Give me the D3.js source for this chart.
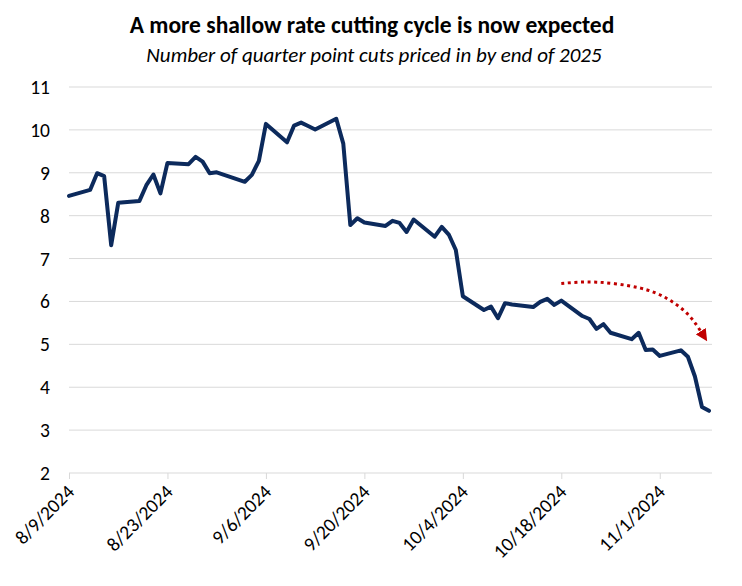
<!DOCTYPE html>
<html>
<head>
<meta charset="utf-8">
<script src="https://cdn.jsdelivr.net/npm/d3@7"></script>
<style>
  html, body { margin: 0; padding: 0; background: #ffffff; }
  svg { display: block; }
  text { font-family: Carlito, Calibri, Lato, "Open Sans", sans-serif; fill: #000; }
</style>
</head>
<body>
<svg id="chart" width="742" height="586"></svg>
<script>
// ---- data ----
const dates = [
  "2024-08-09","2024-08-12","2024-08-13","2024-08-14","2024-08-15","2024-08-16",
  "2024-08-19","2024-08-20","2024-08-21","2024-08-22","2024-08-23",
  "2024-08-26","2024-08-27","2024-08-28","2024-08-29","2024-08-30",
  "2024-09-03","2024-09-04","2024-09-05","2024-09-06",
  "2024-09-09","2024-09-10","2024-09-11","2024-09-12","2024-09-13",
  "2024-09-16","2024-09-17","2024-09-18","2024-09-19","2024-09-20",
  "2024-09-23","2024-09-24","2024-09-25","2024-09-26","2024-09-27",
  "2024-09-30","2024-10-01","2024-10-02","2024-10-03","2024-10-04",
  "2024-10-07","2024-10-08","2024-10-09","2024-10-10","2024-10-11",
  "2024-10-14","2024-10-15","2024-10-16","2024-10-17","2024-10-18",
  "2024-10-21","2024-10-22","2024-10-23","2024-10-24","2024-10-25",
  "2024-10-28","2024-10-29","2024-10-30","2024-10-31","2024-11-01",
  "2024-11-04","2024-11-05","2024-11-06","2024-11-07","2024-11-08"
];
const cutsPriced = [
  8.46, 8.60, 8.99, 8.92, 7.31, 8.30,
  8.34, 8.71, 8.96, 8.52, 9.23,
  9.20, 9.37, 9.26, 8.99, 9.01,
  8.79, 8.95, 9.28, 10.14,
  9.71, 10.10, 10.17, 10.09, 10.01,
  10.26, 9.68, 7.78, 7.94, 7.84,
  7.76, 7.88, 7.83, 7.62, 7.91,
  7.51, 7.74, 7.56, 7.20, 6.12,
  5.80, 5.88, 5.61, 5.96, 5.93,
  5.87, 5.99, 6.06, 5.92, 6.02,
  5.66, 5.59, 5.36, 5.47, 5.27,
  5.12, 5.27, 4.87, 4.88, 4.73,
  4.86, 4.71, 4.25, 3.54, 3.45
];
const xTickLabels = ["8/9/2024","8/23/2024","9/6/2024","9/20/2024","10/4/2024","10/18/2024","11/1/2024"];
const yTicks = [2, 3, 4, 5, 6, 7, 8, 9, 10, 11];
// annotation arrow path (date, value)
const arrowDates = ["2024-10-18","2024-10-23","2024-10-29","2024-11-02","2024-11-05","2024-11-07"];
const arrowValues = [6.42, 6.45, 6.32, 6.07, 5.70, 5.26];

const titleText = "A more shallow rate cutting cycle is now expected";
const subtitleText = "Number of quarter point cuts priced in by end of 2025";

// ---- layout ----
const parse = d3.timeParse("%Y-%m-%d");
const fmt = d3.timeFormat("%-m/%-d/%Y");
const plotLeft = 69, plotRight = 712, plotTop = 87, plotBottom = 473;

const x = d3.scaleTime()
  .domain([parse("2024-08-09"), parse("2024-11-08")])
  .range([plotLeft, 709]);
const y = d3.scaleLinear().domain([2, 11]).range([plotBottom, plotTop]);

const svg = d3.select("#chart");

// title
svg.append("text").attr("x", 372).attr("y", 33).attr("text-anchor", "middle")
  .style("font-weight", "bold").style("font-size", "23.5px").text(titleText);
svg.append("text").attr("x", 374).attr("y", 62).attr("text-anchor", "middle")
  .style("font-style", "italic").style("font-size", "21px").text(subtitleText);

// gridlines
svg.append("g").selectAll("line").data(yTicks).join("line")
  .attr("x1", plotLeft).attr("x2", plotRight)
  .attr("y1", d => y(d)).attr("y2", d => y(d))
  .attr("stroke", "#d9d9d9").attr("stroke-width", 1);

// y labels
svg.append("g").selectAll("text").data(yTicks).join("text")
  .attr("x", 50).attr("y", d => y(d)).attr("dy", "0.36em")
  .attr("text-anchor", "end").style("font-size", "19.5px").text(d => d);

// x axis ticks
const tickDates = xTickLabels.map(s => d3.timeParse("%m/%d/%Y")(s));
const xAxis = d3.axisBottom(x).tickValues(tickDates).tickFormat(fmt).tickSize(6).tickSizeOuter(0);
const gx = svg.append("g").attr("transform", `translate(0,${plotBottom})`).call(xAxis);
gx.select(".domain").remove();
gx.selectAll(".tick line").attr("stroke", "#d9d9d9");
gx.selectAll(".tick text")
  .attr("x", 0).attr("y", 0).attr("dy", 0)
  .attr("text-anchor", "end")
  .attr("transform", "translate(6,20) rotate(-45)")
  .style("font-size", "19.5px").style("fill", "#000")
  .style("font-family", "Carlito, Calibri, Lato, sans-serif");

// line
const pts = dates.map((d, i) => ({ date: parse(d), v: cutsPriced[i] }));
svg.append("path").datum(pts)
  .attr("fill", "none").attr("stroke", "#0c2a5c").attr("stroke-width", 4)
  .attr("stroke-linejoin", "round").attr("stroke-linecap", "round")
  .attr("d", d3.line().x(d => x(d.date)).y(d => y(d.v)));

// arrow annotation
const defs = svg.append("defs");
defs.append("marker").attr("id", "ah").attr("viewBox", "0 0 10 10")
  .attr("refX", 2).attr("refY", 5).attr("markerWidth", 4).attr("markerHeight", 4)
  .attr("orient", "auto").attr("markerUnits", "strokeWidth")
  .append("path").attr("d", "M0,0 L10,5 L0,10 Z").attr("fill", "#c00000");
const arrowPts = arrowDates.map((d, i) => ({ date: parse(d), v: arrowValues[i] }));
svg.append("path").datum(arrowPts)
  .attr("fill", "none").attr("stroke", "#c00000").attr("stroke-width", 3)
  .attr("stroke-dasharray", "3,3.6")
  .attr("marker-end", "url(#ah)")
  .attr("d", d3.line().curve(d3.curveNatural).x(d => x(d.date)).y(d => y(d.v)));
</script>
</body>
</html>
